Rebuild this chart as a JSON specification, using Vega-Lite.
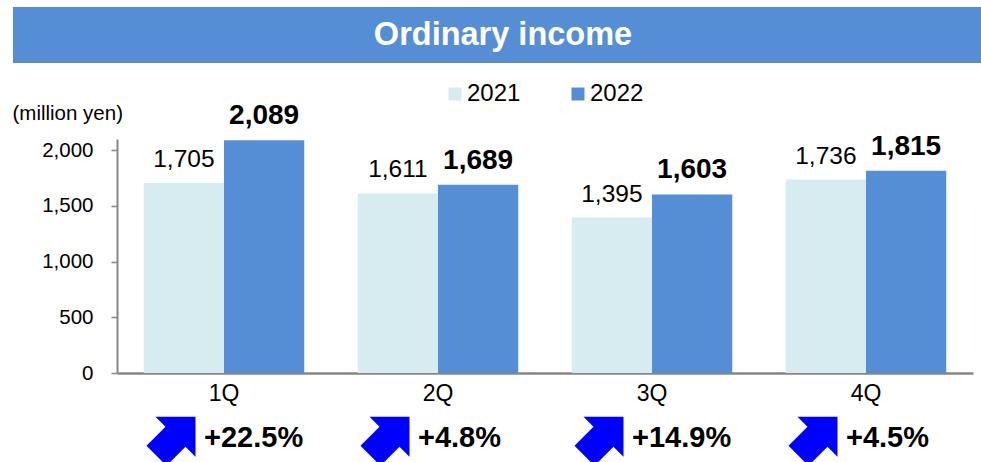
{
  "$schema": "https://vega.github.io/schema/vega-lite/v6.json",
  "padding": {"left": 12, "top": 7, "right": 0, "bottom": 0},
  "background": "white",
  "spacing": 19,
  "config": {
    "font": "Liberation Sans",
    "view": {"stroke": null}
  },
  "datasets": {
    "bars": [
      {"q": "1Q", "year": "2021", "value": 1705},
      {"q": "1Q", "year": "2022", "value": 2089},
      {"q": "2Q", "year": "2021", "value": 1611},
      {"q": "2Q", "year": "2022", "value": 1689},
      {"q": "3Q", "year": "2021", "value": 1395},
      {"q": "3Q", "year": "2022", "value": 1603},
      {"q": "4Q", "year": "2021", "value": 1736},
      {"q": "4Q", "year": "2022", "value": 1815}
    ],
    "growth": [
      {"q": "1Q", "pct": "+22.5%"},
      {"q": "2Q", "pct": "+4.8%"},
      {"q": "3Q", "pct": "+14.9%"},
      {"q": "4Q", "pct": "+4.5%"}
    ],
    "title": [{"t": "Ordinary income"}]
  },
  "resolve": {"legend": {"color": "independent"}},
  "vconcat": [
    {
      "width": 864,
      "height": 56,
      "data": {"name": "title"},
      "layer": [
        {
          "mark": {"type": "rect", "color": "#558ED5"},
          "encoding": {
            "x": {"datum": 0, "type": "quantitative", "scale": {"domain": [0, 1], "range": [-104, 864]}, "axis": null},
            "x2": {"datum": 1},
            "y": {"datum": 0, "type": "quantitative", "scale": {"domain": [0, 1], "range": [0, 56]}, "axis": null},
            "y2": {"datum": 1}
          }
        },
        {
          "mark": {"type": "text", "color": "white", "fontSize": 32.5, "fontWeight": "bold", "dx": 6, "baseline": "middle", "align": "center"},
          "encoding": {
            "x": {"datum": 0.5, "type": "quantitative"},
            "y": {"datum": 0.5, "type": "quantitative"},
            "text": {"field": "t"}
          }
        }
      ]
    },
    {
      "width": 856,
      "height": 234,
      "encoding": {
        "x": {
          "field": "q", "type": "nominal",
          "scale": {"paddingInner": 0.25, "paddingOuter": 0.125},
          "axis": {
            "title": null, "labelAngle": 0, "labelFontSize": 23, "labelColor": "black",
            "ticks": false, "labelPadding": 9, "domainColor": "#868686", "domainWidth": 2.5
          }
        }
      },
      "layer": [
        {
          "data": {"name": "bars"},
          "mark": {"type": "bar"},
          "encoding": {
            "xOffset": {"field": "year", "type": "nominal", "scale": {"paddingInner": 0, "paddingOuter": 0}},
            "y": {
              "field": "value", "type": "quantitative",
              "scale": {"domain": [0, 2100], "nice": false},
              "axis": {
                "values": [0, 500, 1000, 1500, 2000], "format": ",.0f", "grid": false,
                "labelFontSize": 20.5, "labelColor": "black", "labelPadding": 18,
                "tickSize": 6, "tickColor": "#868686", "tickWidth": 1.5,
                "domainColor": "#868686", "domainWidth": 2,
                "title": "(million yen)", "titleAngle": 0, "titleFontSize": 20.5,
                "titleFontWeight": "normal", "titleColor": "black",
                "titleAlign": "left", "titleBaseline": "middle",
                "titleX": -105, "titleY": -26
              }
            },
            "color": {
              "field": "year", "type": "nominal",
              "scale": {"domain": ["2021", "2022"], "range": ["#D7ECF1", "#558ED5"]},
              "legend": {
                "title": null, "orient": "none", "direction": "horizontal",
                "legendX": 326, "legendY": -57,
                "symbolType": "square", "symbolSize": 169, "symbolStrokeWidth": 0,
                "labelFontSize": 24, "labelColor": "black", "labelOffset": 0,
                "columnPadding": 45,
                "encode": {"symbols": {"update": {"fill": {"signal": "datum.value === '2021' ? '#C6D9F1' : '#558ED5'"}}}}
              }
            }
          }
        },
        {
          "data": {"name": "bars"},
          "transform": [{"filter": "datum.year === '2021'"}],
          "mark": {"type": "text", "fontSize": 24.5, "color": "black", "baseline": "alphabetic", "dy": -16},
          "encoding": {
            "xOffset": {"field": "year", "type": "nominal"},
            "y": {"field": "value", "type": "quantitative"},
            "text": {"field": "value", "type": "quantitative", "format": ","}
          }
        },
        {
          "data": {"name": "bars"},
          "transform": [{"filter": "datum.year === '2022'"}],
          "mark": {"type": "text", "fontSize": 28, "fontWeight": "bold", "color": "black", "baseline": "alphabetic", "dy": -16},
          "encoding": {
            "xOffset": {"field": "year", "type": "nominal"},
            "y": {"field": "value", "type": "quantitative"},
            "text": {"field": "value", "type": "quantitative", "format": ","}
          }
        },
        {
          "data": {"name": "growth"},
          "mark": {
            "type": "point", "filled": true, "color": "#0000FF", "opacity": 1,
            "shape": "M0,-1L1,0L0.5,0L0.5,0.95L-0.5,0.95L-0.5,0L-1,0Z",
            "size": 3200, "angle": 45, "xOffset": -48.5, "strokeWidth": 0
          },
          "encoding": {
            "y": {"datum": -571}
          }
        },
        {
          "data": {"name": "growth"},
          "mark": {"type": "text", "fontSize": 29, "fontWeight": "bold", "color": "black", "align": "left", "baseline": "middle", "dx": -20},
          "encoding": {
            "y": {"datum": -580},
            "text": {"field": "pct"}
          }
        }
      ]
    }
  ]
}
